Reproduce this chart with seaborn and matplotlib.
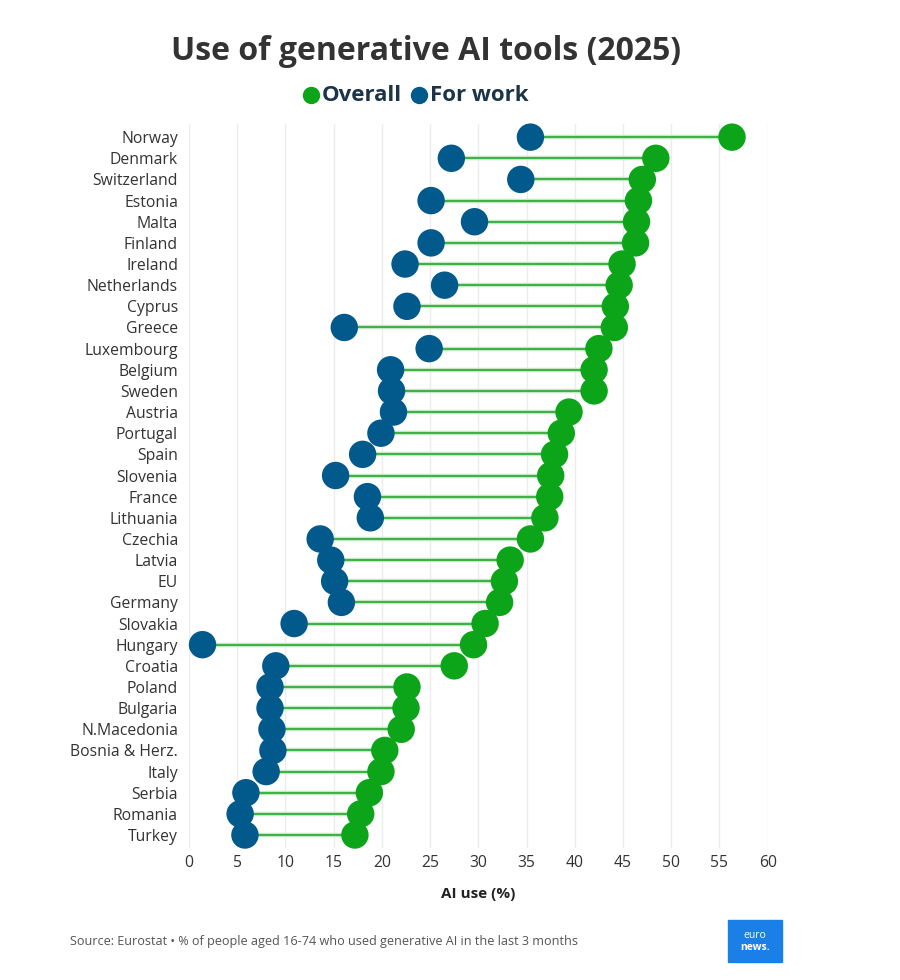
import matplotlib
matplotlib.use("Agg")
import matplotlib.pyplot as plt
from matplotlib.lines import Line2D
import seaborn as sns
import pandas as pd

countries = ["Norway", "Denmark", "Switzerland", "Estonia", "Malta", "Finland", "Ireland",
             "Netherlands", "Cyprus", "Greece", "Luxembourg", "Belgium", "Sweden", "Austria",
             "Portugal", "Spain", "Slovenia", "France", "Lithuania", "Czechia", "Latvia", "EU",
             "Germany", "Slovakia", "Hungary", "Croatia", "Poland", "Bulgaria", "N.Macedonia",
             "Bosnia & Herz.", "Italy", "Serbia", "Romania", "Turkey"]
overall = [56.3, 48.4, 47.0, 46.6, 46.4, 46.3, 44.9, 44.6, 44.2, 44.1, 42.5, 42.0, 42.0, 39.4,
           38.6, 37.9, 37.5, 37.4, 36.9, 35.4, 33.3, 32.7, 32.2, 30.7, 29.5, 27.5, 22.6, 22.5,
           22.0, 20.3, 19.9, 18.7, 17.8, 17.2]
for_work = [35.4, 27.2, 34.4, 25.1, 29.6, 25.1, 22.4, 26.5, 22.6, 16.1, 24.9, 20.9, 21.0, 21.2,
            19.9, 18.0, 15.2, 18.5, 18.8, 13.6, 14.7, 15.1, 15.8, 10.9, 1.4, 9.0, 8.4, 8.4,
            8.6, 8.7, 8.0, 5.9, 5.3, 5.8]
series_names = ["Overall", "For work"]
x_ticks = list(range(0, 61, 5))

GREEN = "#0ca51a"
BLUE = "#02598c"
LINE = "#3cb043"

sns.set_theme(style="white")
plt.rcParams["font.family"] = ["Open Sans", "DejaVu Sans"]

df = pd.DataFrame({
    "country": countries * 2,
    "value": overall + for_work,
    "series": [series_names[0]] * len(countries) + [series_names[1]] * len(countries),
})
df["pos"] = df["country"].map({c: i for i, c in enumerate(countries)})

fig = plt.figure(figsize=(9, 9.8), dpi=100)
ax = fig.add_axes([0.21, 0.135, 0.643, 0.738])

for xv in x_ticks:
    ax.axvline(xv, color="#ececec", lw=1, zorder=0)

wide = pd.DataFrame({"pos": range(len(countries)), "o": overall, "w": for_work})
ax.hlines(wide["pos"], wide["w"], wide["o"], color="#c4e8c6", lw=3.2, zorder=1)
ax.hlines(wide["pos"], wide["w"], wide["o"], color=LINE, lw=1.4, zorder=2)

sns.scatterplot(data=df, x="value", y="pos", hue="series", hue_order=series_names,
                palette=[GREEN, BLUE], s=390, edgecolor="none", legend=False,
                ax=ax, zorder=3, clip_on=False)

ax.set_xlim(0, 60)
ax.set_ylim(len(countries) - 0.4, -0.6)
ax.set_yticks(range(len(countries)))
ax.set_yticklabels(countries, fontsize=11.3, color="#333333")
ax.set_xticks(x_ticks)
ax.set_xticklabels([str(t) for t in x_ticks], fontsize=11.3, color="#333333")
ax.tick_params(axis="y", length=6, color="#ececec", pad=2)
ax.tick_params(axis="x", length=0, pad=5)
ax.set_xlabel("AI use (%)", fontsize=11, fontweight="bold", color="#222222", labelpad=12)
ax.set_ylabel("")
for s in ax.spines.values():
    s.set_visible(False)

fig.text(0.473, 0.947, "Use of generative AI tools (2025)", ha="center", va="center",
         fontsize=23, fontweight="bold", color="#333333")

# legend
ly = 0.903
fig.add_artist(Line2D([0.3455], [ly], marker="o", markersize=11.5, color=GREEN, lw=0,
                      transform=fig.transFigure))
fig.text(0.357, ly, "Overall", ha="left", va="center", fontsize=16, fontweight="bold", color="#1b3447")
fig.add_artist(Line2D([0.4655], [ly], marker="o", markersize=11.5, color=BLUE, lw=0,
                      transform=fig.transFigure))
fig.text(0.478, ly, "For work", ha="left", va="center", fontsize=16, fontweight="bold", color="#1b3447")

fig.text(0.078, 0.039, "Source: Eurostat \u2022 % of people aged 16-74 who used generative AI in the last 3 months",
         ha="left", va="center", fontsize=9.1, color="#555555")

# logo
lx, lyb, lw_, lh = 728 / 900, 1 - 962 / 980, 54 / 900, 42 / 980
fig.add_artist(plt.Rectangle((lx, lyb), lw_, lh, transform=fig.transFigure,
                             color="#1a7fe6", zorder=5))
fig.text(lx + lw_ / 2, lyb + lh * 0.62, "euro", ha="center", va="center", fontsize=7.5,
         color="white", zorder=6)
fig.text(lx + lw_ / 2, lyb + lh * 0.35, "news.", ha="center", va="center", fontsize=7.5,
         color="white", fontweight="bold", zorder=6)

fig.savefig("out.png", dpi=100, facecolor="white")
